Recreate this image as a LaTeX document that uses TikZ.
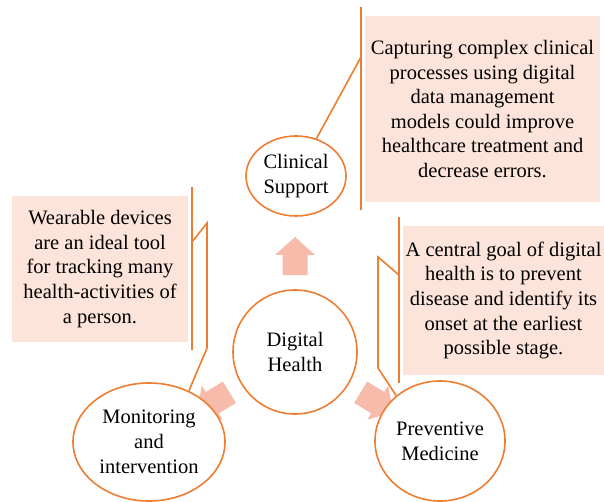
\documentclass[tikz,border=0pt]{standalone}
\usepackage{fontspec}
\setmainfont{Liberation Serif}
\usetikzlibrary{shapes.geometric, positioning, calc}
\definecolor{linecolor}{RGB}{237, 125, 49}
\definecolor{notecolor}{RGB}{252, 228, 218}
\definecolor{arrowcolor}{RGB}{247, 187, 172}

\begin{document}
\begin{tikzpicture}[
    x=1pt, y=-1pt,
    topic/.style={ellipse, draw=linecolor, line width=1.6pt, fill=white, inner sep=0pt, align=center, font=\fontsize{20.5}{25}\selectfont},
    note/.style={fill=notecolor, inner sep=0pt, align=center, font=\fontsize{20.5}{24.6}\selectfont},
    link/.style={draw=linecolor, line width=1.6pt},
    fatarrow/.style={fill=arrowcolor}
]
    \useasboundingbox (0,0) rectangle (604,502);

    % Centre
    \node[topic, minimum width=124pt, minimum height=124pt] (dh) at (295,352) {Digital\\Health};

    % Block arrows (behind the outer topics)
    \foreach \ang in {90, -31.5, 211.5}
        \fill[fatarrow, shift={(dh.center)}, rotate=\ang]
            (77,-12.5) -- (97,-12.5) -- (97,-20) -- (115,0) -- (97,20) -- (97,12.5) -- (77,12.5) -- cycle;

    % Outer topics
    \node[topic, minimum width=100pt, minimum height=80pt] (cs) at (296,176) {Clinical\\Support};
    \node[topic, minimum width=152pt, minimum height=118pt] (mi) at (149,442) {Monitoring\\and\\intervention};
    \node[topic, minimum width=130pt, minimum height=120pt] (pm) at (440,441) {Preventive\\Medicine};

    % Notes
    \node[note, minimum width=235pt, minimum height=186pt] (csnote) at (482.5,109)
        {Capturing complex clinical\\processes using digital\\data management\\models could improve\\healthcare treatment and\\decrease errors.};
    \node[note, minimum width=176pt, minimum height=146pt] (minote) at (100,269)
        {Wearable devices\\are an ideal tool\\for tracking many\\health-activities of\\a person.};
    \node[note, minimum width=201pt, minimum height=149pt] (pmnote) at (503.5,300.5)
        {A central goal of digital\\health is to prevent\\disease and identify its\\onset at the earliest\\possible stage.};

    % Callout lines
    \coordinate (cstop) at (361,7);
    \coordinate (csbot) at (361,210);
    \coordinate (csknee) at (361,57);
    \draw[link] (cstop) -- (csbot);
    \draw[link] (cs) -- (csknee);

    \coordinate (mitop) at (192,187);
    \coordinate (mibot) at (192,350);
    \coordinate (mia) at (192,242);
    \coordinate (mib) at (207,223);
    \coordinate (mic) at (207,348);
    \draw[link] (mitop) -- (mibot);
    \draw[link] (mia) -- (mib) -- (mic) -- (mi.52);

    \coordinate (pmtop) at (399,217);
    \coordinate (pmbot) at (399,383);
    \coordinate (pma) at (399,275);
    \coordinate (pmb) at (378,257);
    \coordinate (pmc) at (378,368);
    \draw[link] (pmtop) -- (pmbot);
    \draw[link] (pma) -- (pmb) -- (pmc) -- (pm.134);
\end{tikzpicture}
\end{document}
